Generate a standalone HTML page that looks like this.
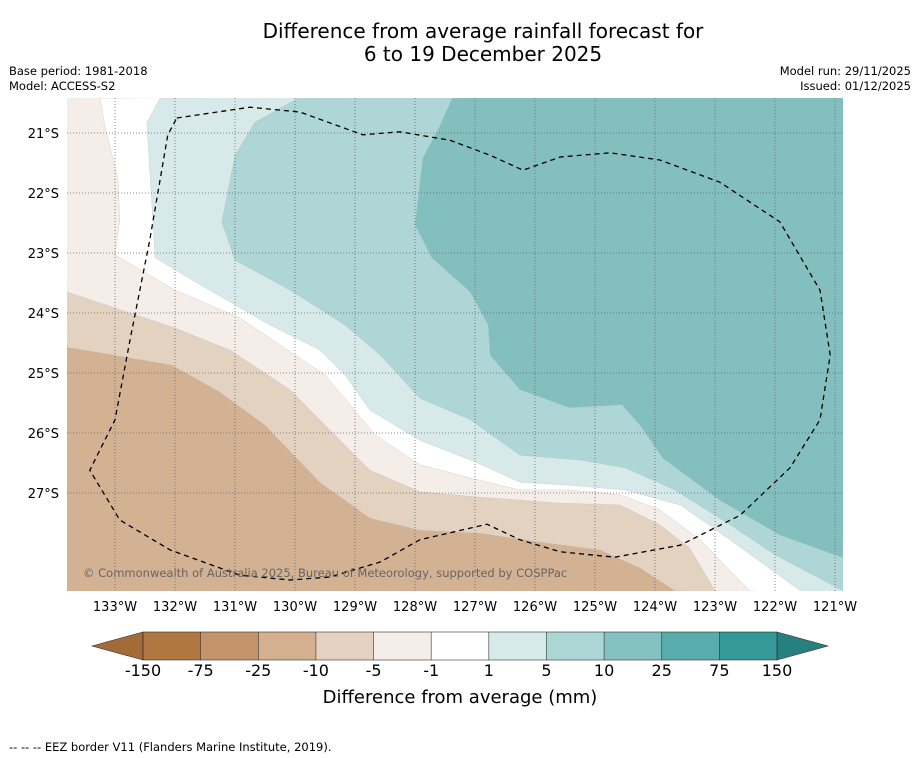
<!DOCTYPE html>
<html><head><meta charset="utf-8"><style>
body{margin:0;background:#fff;font-family:"DejaVu Sans","Liberation Sans",sans-serif;}
svg{display:block}
</style></head><body>
<svg id="chart" width="919" height="758" xmlns="http://www.w3.org/2000/svg">
<text x="483" y="38" font-size="20" text-anchor="middle">Difference from average rainfall forecast for</text>
<text x="483" y="61" font-size="20" text-anchor="middle">6 to 19 December 2025</text>
<text x="9" y="75" font-size="11.5">Base period: 1981-2018</text>
<text x="9" y="90" font-size="11.5">Model: ACCESS-S2</text>
<text x="911" y="75" font-size="11.5" text-anchor="end">Model run: 29/11/2025</text>
<text x="911" y="90" font-size="11.5" text-anchor="end">Issued: 01/12/2025</text>
<g id="map"></g>
<g id="cbar"></g>
<text x="460" y="703" font-size="18" text-anchor="middle">Difference from average (mm)</text>
<text x="9" y="751" font-size="11.5">--  --  -- EEZ border V11 (Flanders Marine Institute, 2019).</text>
</svg>
<script>
const lonTicks=[-133,-132,-131,-130,-129,-128,-127,-126,-125,-124,-123,-122,-121];
const latTicks=[-21,-22,-23,-24,-25,-26,-27];
const levelLabels=["-150","-75","-25","-10","-5","-1","1","5","10","25","75","150"];
const levelColors=["#b07840","#c4956a","#d4b08f","#e4d1bf","#f5ede7","#ffffff","#d6eaea","#acd6d6","#84c1c1","#58acac","#339999"];
const fillColors=["#d3b193","#e4d2c1","#f5ede8","#ffffff","#d7eae9","#aed6d6","#84bfbf"];
const boundA=[[-133.8,-24.57],[-132.05,-24.87],[-131.25,-25.32],[-130.5,-25.87],[-129.58,-26.83],[-128.75,-27.42],[-127.92,-27.62],[-126.92,-27.67],[-125.92,-27.82],[-124.92,-27.95],[-124.25,-28.25],[-123.67,-28.63]];
const boundB=[[-133.8,-23.65],[-132.75,-24.0],[-132,-24.25],[-131.08,-24.62],[-130.08,-25.28],[-129.42,-25.95],[-128.75,-26.62],[-127.92,-26.98],[-126.92,-27.07],[-125.58,-27.17],[-124.58,-27.2],[-123.92,-27.53],[-123.42,-27.92],[-123,-28.63]];
const boundC=[[-133.25,-20.42],[-133.17,-20.87],[-132.95,-21.78],[-132.92,-22.45],[-133,-23.03],[-132,-23.62],[-130.92,-24.08],[-130,-24.7],[-129.5,-25.03],[-129.08,-25.53],[-128.67,-26.03],[-127.92,-26.53],[-127.08,-26.75],[-126.25,-26.95],[-125.42,-26.95],[-124.58,-27.03],[-123.92,-27.28],[-123.25,-27.78],[-122.42,-28.63]];
const boundD=[[-132.25,-20.42],[-132.47,-20.83],[-132.33,-23.08],[-131.58,-23.53],[-130.42,-24.2],[-129.58,-24.62],[-129.17,-25.03],[-128.75,-25.62],[-127.92,-26.12],[-127,-26.48],[-126.25,-26.82],[-125.42,-26.87],[-124.5,-26.95],[-123.58,-27.2],[-122.75,-27.78],[-121.58,-28.63]];
const boundE=[[-129.95,-20.42],[-130.67,-20.82],[-131,-21.37],[-131.22,-22.48],[-131,-23.12],[-130.08,-23.62],[-129.17,-24.2],[-128.58,-24.7],[-127.92,-25.42],[-127.08,-25.78],[-126.25,-26.37],[-125.25,-26.45],[-124.5,-26.58],[-123.67,-26.95],[-122.75,-27.53],[-122,-28.03],[-120.87,-28.63]];
const boundF=[[-127.38,-20.42],[-127.58,-20.87],[-127.87,-21.42],[-128,-22.53],[-127.72,-23.08],[-127.08,-23.65],[-126.78,-24.2],[-126.75,-24.7],[-126.25,-25.28],[-125.42,-25.58],[-124.55,-25.53],[-124.25,-25.87],[-123.87,-26.42],[-122.92,-27.12],[-121.92,-27.7],[-120.87,-28.08]];
const eez=[[-131.97,-20.75],[-130.75,-20.57],[-129.92,-20.65],[-128.87,-21.03],[-128.25,-20.98],[-127.42,-21.12],[-126.75,-21.37],[-126.2,-21.62],[-125.58,-21.4],[-124.75,-21.33],[-123.92,-21.45],[-122.92,-21.82],[-121.92,-22.48],[-121.25,-23.62],[-121.08,-24.7],[-121.25,-25.78],[-121.75,-26.58],[-122.58,-27.37],[-123.58,-27.87],[-124.67,-28.07],[-125.58,-27.98],[-126.25,-27.78],[-126.8,-27.52],[-127.92,-27.78],[-128.58,-28.15],[-129.42,-28.4],[-130.08,-28.45],[-130.92,-28.37],[-132.08,-27.95],[-132.92,-27.45],[-133.42,-26.62],[-133,-25.78],[-132.75,-24.45],[-132.42,-22.78],[-132.12,-21.03]];

const NS="http://www.w3.org/2000/svg";
const X0=67,X1=843,Y0=98,Y1=591;
const xOf=lon=>115+(lon+133)*60;
const yOf=lat=>133+(-21-lat)*60;
function mk(tag,attrs,parent){const e=document.createElementNS(NS,tag);for(const k in attrs)e.setAttribute(k,attrs[k]);parent.appendChild(e);return e;}
const map=document.getElementById('map');
const clip=mk('clipPath',{id:'mc'},map);mk('rect',{x:X0,y:Y0,width:X1-X0,height:Y1-Y0},clip);
const g=mk('g',{'clip-path':'url(#mc)'},map);
const base=mk('rect',{x:X0,y:Y0,width:X1-X0,height:Y1-Y0,fill:fillColors[0]},g);


const bounds=[boundA,boundB,boundC,boundD,boundE,boundF];
const names=['region-minus10-to-minus5','region-minus5-to-minus1','region-minus1-to-1','region-1-to-5','region-5-to-10','region-10-to-25'];
bounds.forEach((b,i)=>{
  const pts=b.map(p=>[xOf(p[0]),yOf(p[1])]);
  const last=pts[pts.length-1],first=pts[0];
  let extra=[];
  if(last[1]>=Y1-1) extra.push([X1+5,Y1+5]);
  extra.push([X1+5,Y0-5]);
  if(first[0]<=X0+1) extra.push([X0-5,Y0-5]);
  const all=pts.concat(extra);
  const p=mk('polygon',{points:all.map(q=>q.join(',')).join(' '),fill:fillColors[i+1],stroke:'#bbb','stroke-width':0.3},g);
  
  
});
lonTicks.forEach(l=>{
  const x=xOf(l);
  const ln=mk('line',{x1:x,x2:x,y1:Y0,y2:Y1,stroke:'#666','stroke-width':0.8,'stroke-dasharray':'1,2'},g);
  
  
  const t=mk('text',{x:x,y:611,'font-size':13,'text-anchor':'middle'},map);
  t.textContent=Math.abs(l)+'°W';
  
  
});
latTicks.forEach(l=>{
  const y=yOf(l);
  const ln=mk('line',{x1:X0,x2:X1,y1:y,y2:y,stroke:'#666','stroke-width':0.8,'stroke-dasharray':'1,2'},g);
  
  
  const t=mk('text',{x:59,y:y+5,'font-size':13,'text-anchor':'end'},map);
  t.textContent=Math.abs(l)+'°S';
  
  
});
const ez=mk('polygon',{points:eez.map(p=>xOf(p[0])+','+yOf(p[1])).join(' '),fill:'none',stroke:'#000','stroke-width':1.3,'stroke-dasharray':'5,4'},g);


const cr=mk('text',{x:83,y:577,'font-size':11.5,fill:'#666'},g);
cr.textContent='© Commonwealth of Australia 2025, Bureau of Meteorology, supported by COSPPac';



const cb=document.getElementById('cbar');
const CX0=143,CX1=777,CY0=632,CY1=660,n=levelColors.length,sw=(CX1-CX0)/n;
const lt=mk('polygon',{points:`${CX0},${CY0} ${CX0},${CY1} 92,${(CY0+CY1)/2}`,fill:'#a36b37',stroke:'#333','stroke-width':0.6},cb);


const rt=mk('polygon',{points:`${CX1},${CY0} ${CX1},${CY1} 828,${(CY0+CY1)/2}`,fill:'#287f7f',stroke:'#333','stroke-width':0.6},cb);


levelColors.forEach((c,i)=>{
  const r=mk('rect',{x:CX0+i*sw,y:CY0,width:sw,height:CY1-CY0,fill:c},cb);
  
  
});
mk('rect',{x:CX0,y:CY0,width:CX1-CX0,height:CY1-CY0,fill:'none',stroke:'#333','stroke-width':0.6},cb);
levelLabels.forEach((s,i)=>{
  const x=CX0+i*sw;
  mk('line',{x1:x,x2:x,y1:CY0,y2:CY1,stroke:'#333','stroke-width':0.6},cb);
  const t=mk('text',{x:x,y:676,'font-size':16,'text-anchor':'middle'},cb);
  t.textContent=s;
  
  
});
</script>
</body></html>
